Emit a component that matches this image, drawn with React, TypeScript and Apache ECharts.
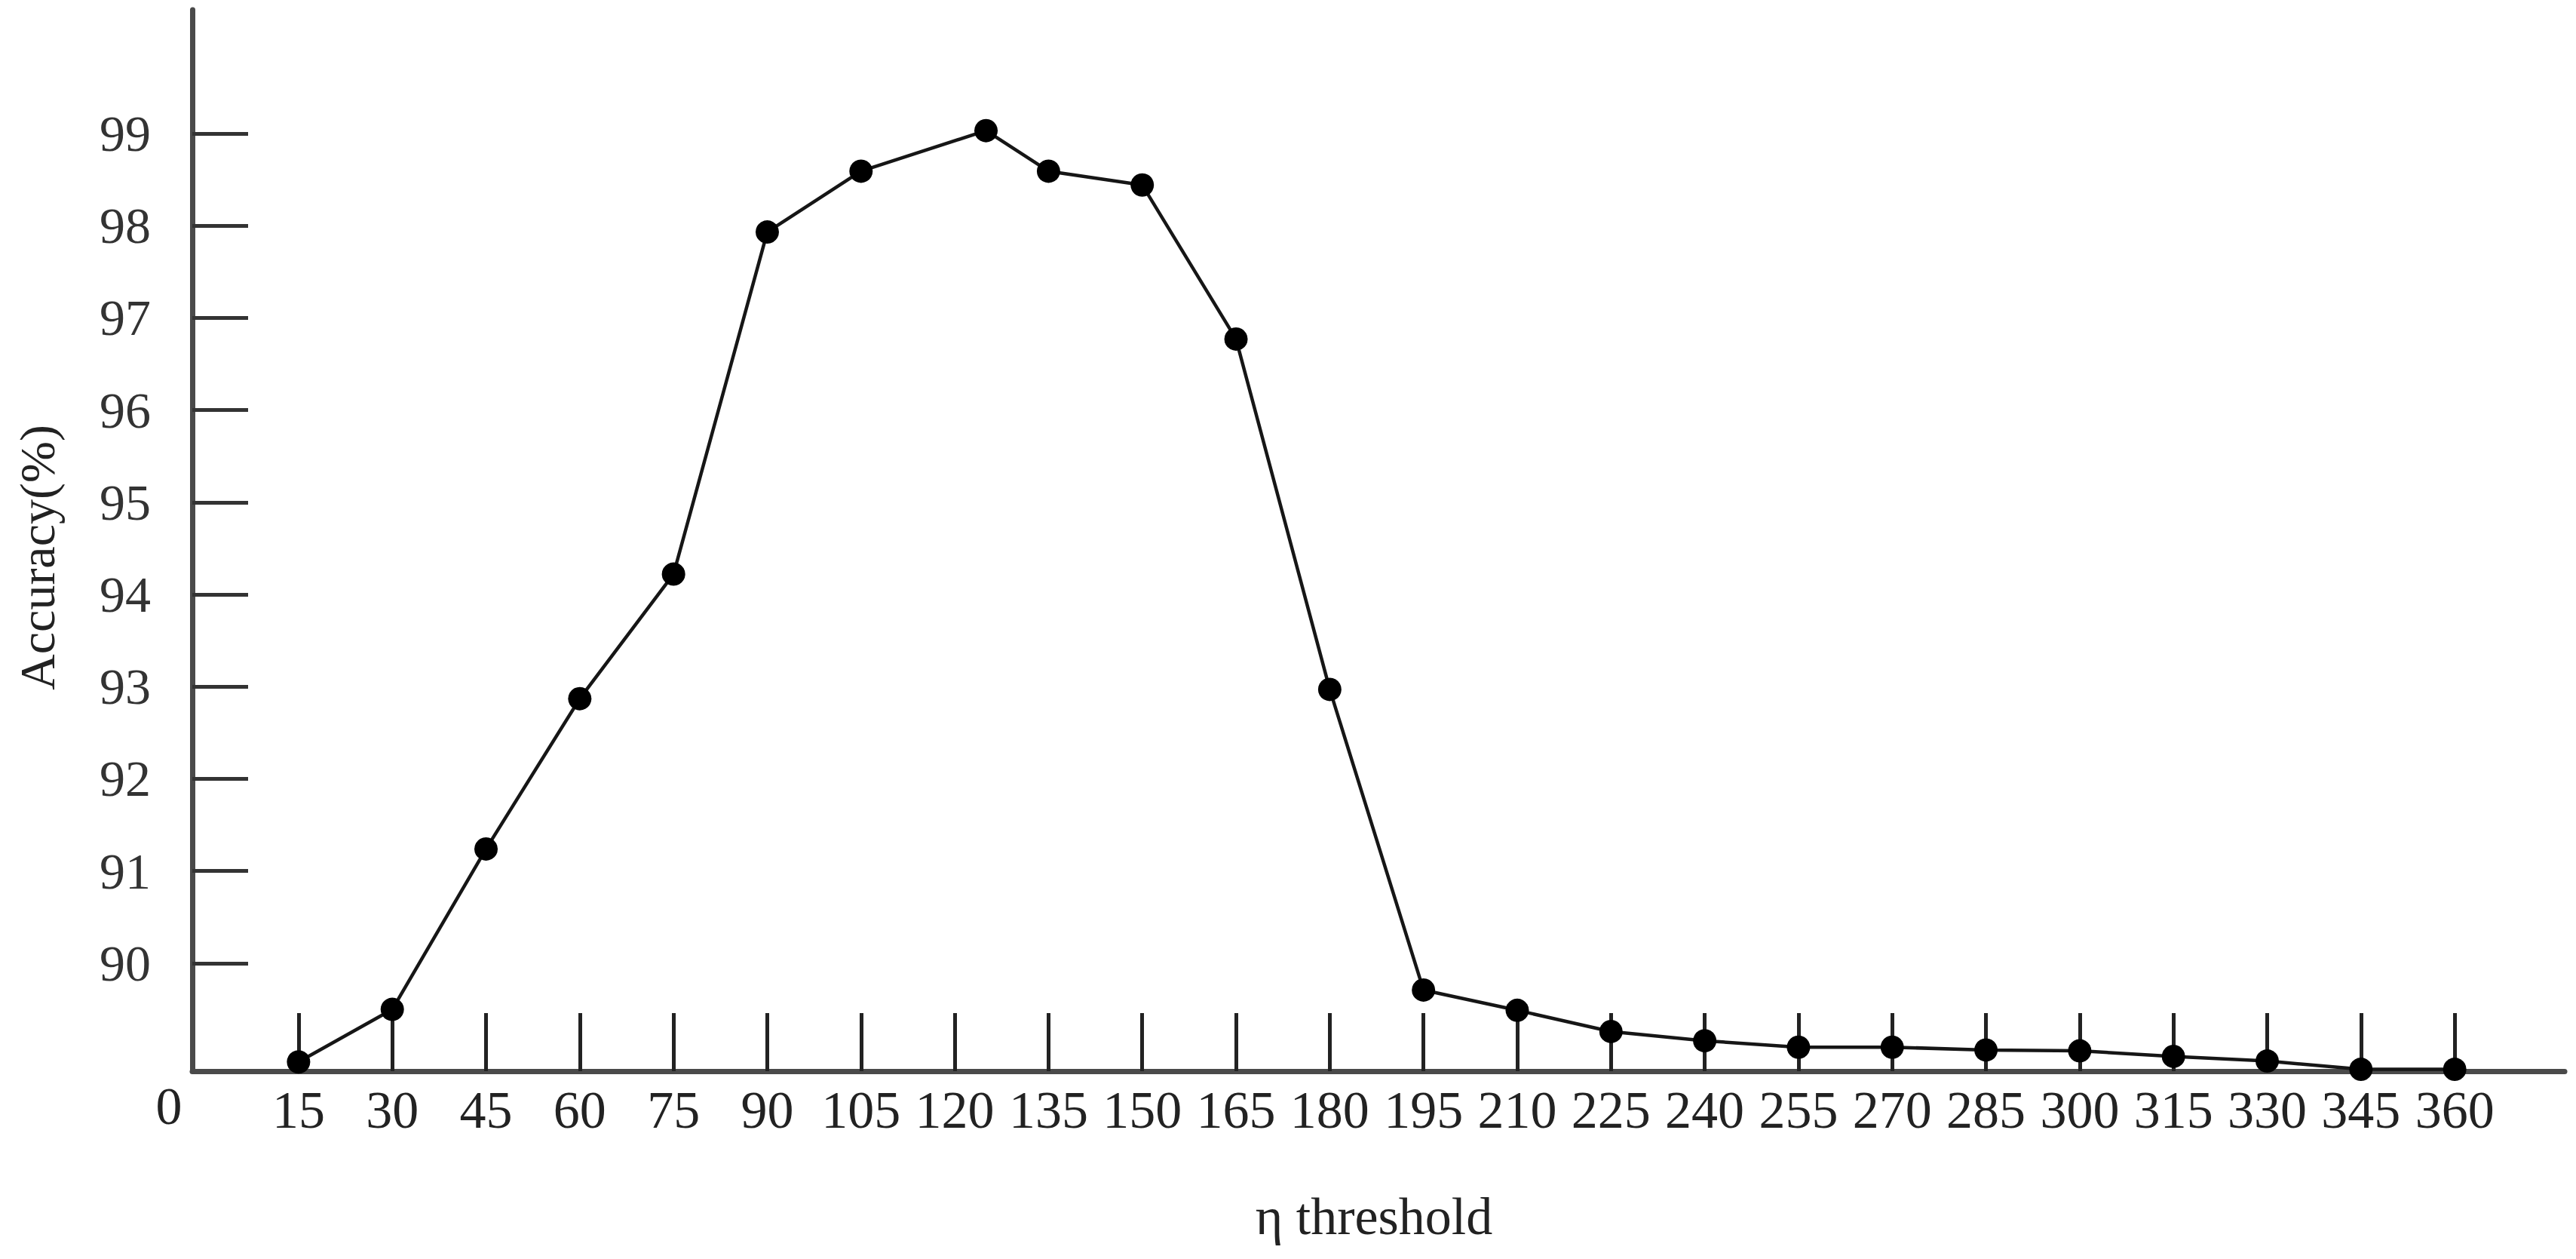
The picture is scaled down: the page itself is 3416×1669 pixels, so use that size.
import React, { useEffect, useRef } from "react";
import * as echarts from "echarts";

// tick labels of the threshold axis
const xTicks = [15, 30, 45, 60, 75, 90, 105, 120, 135, 150, 165, 180, 195, 210, 225, 240, 255, 270, 285, 300, 315, 330, 345, 360];
// horizontal position of each plotted point (the 120 point sits a little right of its tick)
const pointX = [15, 30, 45, 60, 75, 90, 105, 125, 135, 150, 165, 180, 195, 210, 225, 240, 255, 270, 285, 300, 315, 330, 345, 360];
const accuracy = [88.93, 89.5, 91.24, 92.87, 94.22, 97.93, 98.59, 99.03, 98.59, 98.44, 96.77, 92.97, 89.71, 89.49, 89.26, 89.16, 89.09, 89.09, 89.06, 89.05, 88.99, 88.94, 88.85, 88.85];
const yTicks = [90, 91, 92, 93, 94, 95, 96, 97, 98, 99];

const FONT = "'Liberation Serif', 'DejaVu Serif', serif";

export default function App() {
  const ref = useRef<HTMLDivElement>(null);
  useEffect(() => {
    if (!ref.current) return;
    const chart = echarts.init(ref.current, undefined, { renderer: "svg" });
    const data = pointX.map((t, i) => [t, accuracy[i]]);
    chart.setOption({
      animation: false,
      backgroundColor: "#ffffff",
      grid: { left: 255, top: 13, width: 3146, height: 1407, containLabel: false },
      xAxis: {
        type: "value",
        min: -2,
        max: 377.6,
        axisLine: { show: true, onZero: false, lineStyle: { color: "#4a4a4a", width: 7 } },
        axisTick: { show: true, inside: true, length: 77, customValues: xTicks, lineStyle: { color: "#222", width: 5 } },
        axisLabel: { customValues: xTicks, fontSize: 70, fontFamily: FONT, color: "#222", margin: 16 },
        splitLine: { show: false },
      },
      yAxis: {
        type: "value",
        min: 88.83,
        max: 100.34,
        axisLine: { show: true, onZero: false, lineStyle: { color: "#4a4a4a", width: 7 } },
        axisTick: { show: true, inside: true, length: 74, customValues: yTicks, lineStyle: { color: "#333", width: 5 } },
        axisLabel: { customValues: yTicks, fontSize: 68, fontFamily: FONT, color: "#333", margin: 55 },
        splitLine: { show: false },
      },
      graphic: [
        { type: "text", x: 224, y: 1466, style: { text: "0", fontSize: 70, fontFamily: FONT, fill: "#222", align: "center", verticalAlign: "middle" } },
        { type: "text", x: 1822, y: 1612, style: { text: "η threshold", fontSize: 70, fontFamily: FONT, fill: "#222", align: "center", verticalAlign: "middle" } },
        { type: "text", x: 49, y: 739, rotation: Math.PI / 2, style: { text: "Accuracy(%)", fontSize: 66, fontFamily: FONT, fill: "#222", align: "center", verticalAlign: "middle" } },
      ],
      series: [
        {
          type: "line",
          data,
          clip: false,
          symbol: "circle",
          symbolSize: 31,
          itemStyle: { color: "#000" },
          lineStyle: { color: "#161616", width: 4.5 },
        },
      ],
    });
    return () => chart.dispose();
  }, []);
  return <div ref={ref} style={{ position: "fixed", left: 0, top: 0, width: 3416, height: 1669 }} />;
}
